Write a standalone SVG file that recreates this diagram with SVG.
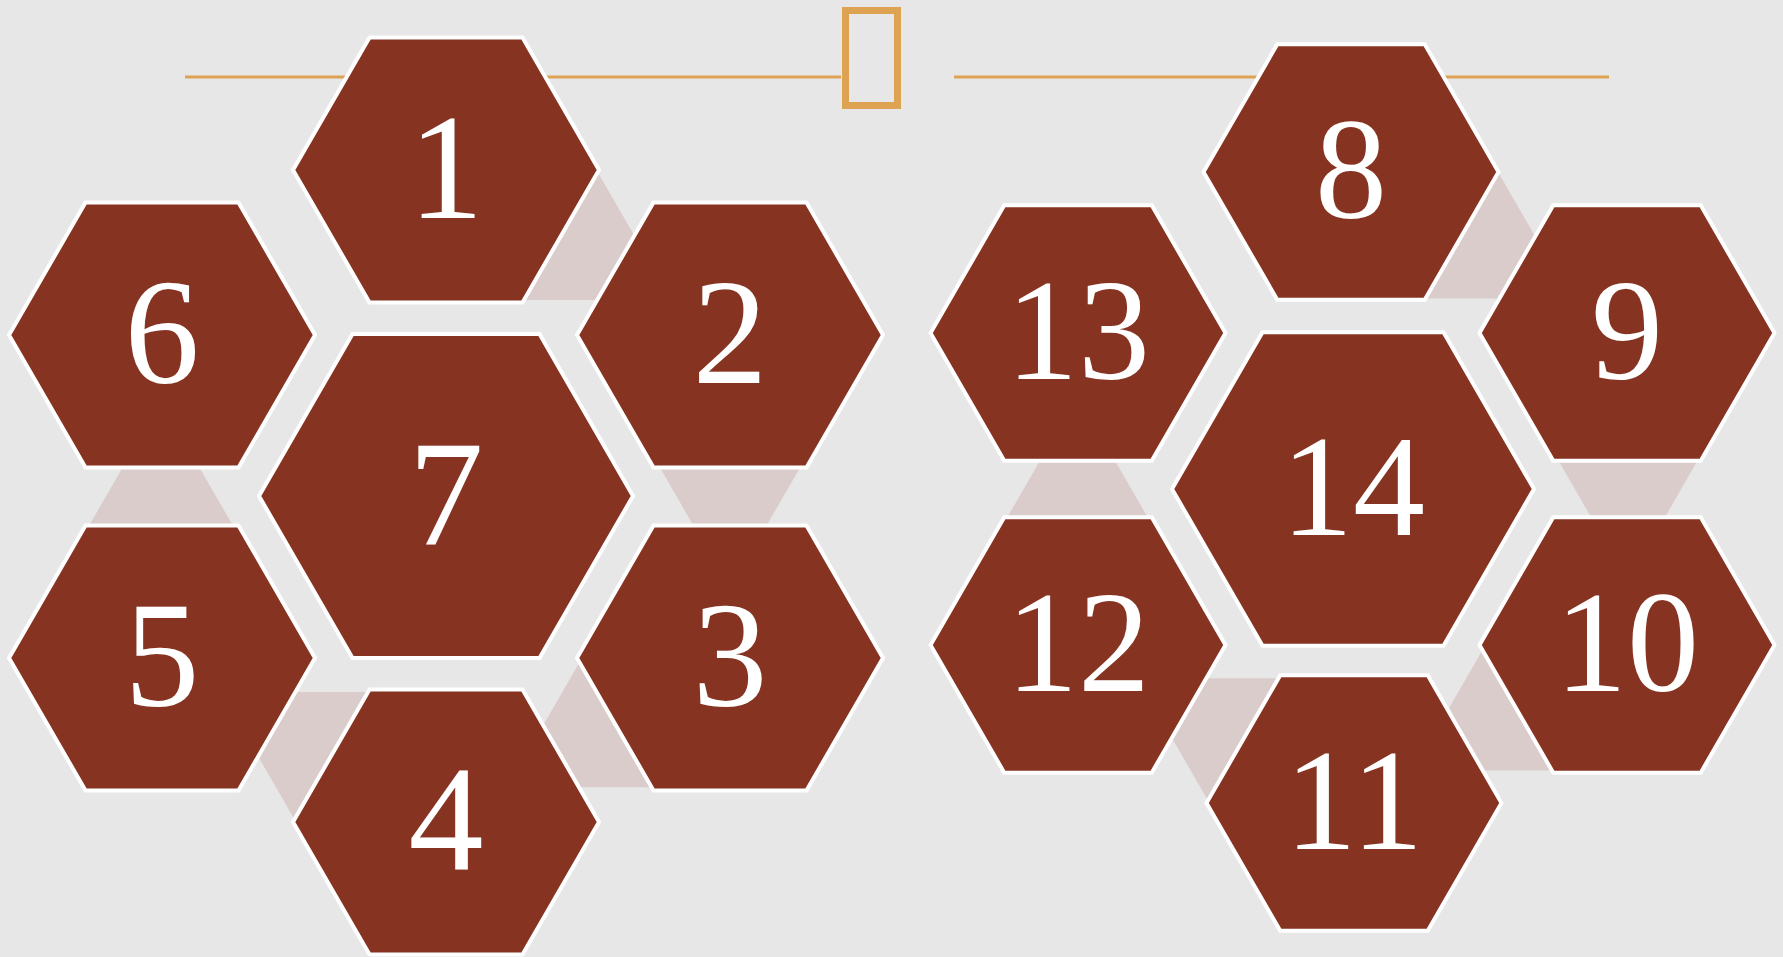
<svg xmlns="http://www.w3.org/2000/svg" width="1783" height="957" viewBox="0 0 1783 957">
<defs>
<style>
.hex{fill:#863322;stroke:#ffffff;stroke-width:4;stroke-linejoin:miter}
.con{fill:#D9CCCB}
.num{fill:#ffffff;font-family:"Liberation Serif","DejaVu Serif",serif;text-anchor:middle}
.l{font-size:150px}
.r{font-size:144px}
.rule{stroke:#DDA352;stroke-width:3;fill:none}
</style>
</defs>
<rect x="0" y="0" width="1783" height="957" fill="#E7E7E7"/>
<g id="title">
<line class="rule" x1="185" y1="77" x2="841" y2="77"/>
<line class="rule" x1="954" y1="77" x2="1609" y2="77"/>
<rect x="845.5" y="10.5" width="52" height="95" fill="none" stroke="#DDA352" stroke-width="7"/>
</g>
<g id="connectors">
<polygon class="con" points="597,171 522.5,300 671.5,300"/>
<polygon class="con" points="655,459 805,459 730,589"/>
<polygon class="con" points="582,658 507.5,787.3 656.5,787.3"/>
<polygon class="con" points="221,692 371,692 296,822"/>
<polygon class="con" points="161,401 86,531 236,531"/>
<polygon class="con" points="1498,172 1425,298.4 1571,298.4"/>
<polygon class="con" points="1555,454.6 1701,454.6 1628,581"/>
<polygon class="con" points="1486,644 1413,770.4 1559,770.4"/>
<polygon class="con" points="1137.4,678.3 1283.4,678.3 1210.4,804.7"/>
<polygon class="con" points="1077.5,395.8 1004.5,522.2 1150.5,522.2"/>
</g>
<g id="node1"><polygon class="hex" points="293,170 369.5,37.5 522.5,37.5 599,170 522.5,302.5 369.5,302.5"/><text class="num l" x="446" y="218">1</text></g>
<g id="node6"><polygon class="hex" points="9,335 85.5,202.5 238.5,202.5 315,335 238.5,467.5 85.5,467.5"/><text class="num l" x="162" y="383">6</text></g>
<g id="node2"><polygon class="hex" points="577,335 653.5,202.5 806.5,202.5 883,335 806.5,467.5 653.5,467.5"/><text class="num l" x="730" y="383">2</text></g>
<g id="node7"><polygon class="hex" points="259,496 352.5,334 539.5,334 633,496 539.5,658 352.5,658"/><text class="num l" x="446" y="544">7</text></g>
<g id="node5"><polygon class="hex" points="9,658 85.5,525.5 238.5,525.5 315,658 238.5,790.5 85.5,790.5"/><text class="num l" x="162" y="706">5</text></g>
<g id="node3"><polygon class="hex" points="577,658 653.5,525.5 806.5,525.5 883,658 806.5,790.5 653.5,790.5"/><text class="num l" x="730" y="706">3</text></g>
<g id="node4"><polygon class="hex" points="293,822 369.5,689.5 522.5,689.5 599,822 522.5,954.5 369.5,954.5"/><text class="num l" x="446" y="870">4</text></g>
<g id="node8"><polygon class="hex" points="1203.5,172 1277.25,44.3 1424.75,44.3 1498.5,172 1424.75,299.7 1277.25,299.7"/><text class="num r" x="1351" y="218">8</text></g>
<g id="node13"><polygon class="hex" points="930.5,333 1004.25,205.3 1151.75,205.3 1225.5,333 1151.75,460.7 1004.25,460.7"/><text class="num r" x="1078" y="379">13</text></g>
<g id="node9"><polygon class="hex" points="1479.5,333 1553.25,205.3 1700.75,205.3 1774.5,333 1700.75,460.7 1553.25,460.7"/><text class="num r" x="1627" y="379">9</text></g>
<g id="node14"><polygon class="hex" points="1172,489 1262.5,332.2 1443.5,332.2 1534,489 1443.5,645.8 1262.5,645.8"/><text class="num r" x="1353" y="535">14</text></g>
<g id="node12"><polygon class="hex" points="930.5,645 1004.25,517.3 1151.75,517.3 1225.5,645 1151.75,772.7 1004.25,772.7"/><text class="num r" x="1078" y="691">12</text></g>
<g id="node10"><polygon class="hex" points="1479.5,645 1553.25,517.3 1700.75,517.3 1774.5,645 1700.75,772.7 1553.25,772.7"/><text class="num r" x="1627" y="691">10</text></g>
<g id="node11"><polygon class="hex" points="1206.5,803 1280.25,675.3 1427.75,675.3 1501.5,803 1427.75,930.7 1280.25,930.7"/><text class="num r" x="1354" y="849">11</text></g>
</svg>
